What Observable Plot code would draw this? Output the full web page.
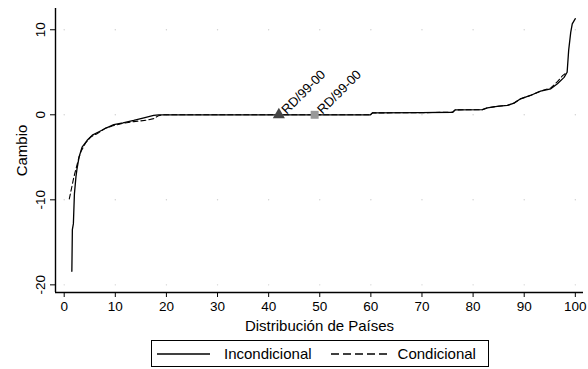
<!DOCTYPE html>
<html>
<head>
<meta charset="utf-8">
<script src="https://cdn.jsdelivr.net/npm/d3@7"></script>
<script src="https://cdn.jsdelivr.net/npm/@observablehq/plot@0.6"></script>
<style>
  html, body { margin: 0; padding: 0; background: white; }
  body { width: 588px; height: 369px; overflow: hidden; font-family: "Liberation Sans", Arial, sans-serif; }
  #legend { position: absolute; left: 151px; top: 340px; width: 336px; height: 25px; border: 1px solid #000;
            display: flex; align-items: center; font-size: 15px; color: #000; box-sizing: content-box; }
  #legend span { white-space: nowrap; }
</style>
</head>
<body>
<div id="chart"></div>
<div id="legend"></div>
<script>
// Incondicional (solid)
const incX = [1.5, 1.6, 1.8, 2.0, 2.3, 2.5, 2.9, 3.5, 4.5, 5.5, 6.8, 8.4, 9.7, 11.5, 13.6, 15.6, 17.5, 18.5, 30, 42, 50, 59.9, 60.3, 70, 76, 76.5, 81.8, 82.8, 84.7, 86.7, 88, 89.3, 91.2, 93.2, 95.2, 96.5, 97.8, 98.4, 98.7, 99.1, 99.4, 100];
const incY = [-18.4, -13.5, -12.8, -9.3, -7.3, -6.4, -5.0, -3.8, -3.0, -2.4, -2.0, -1.5, -1.15, -0.95, -0.67, -0.35, -0.08, 0, 0, 0, 0, 0, 0.22, 0.25, 0.3, 0.58, 0.6, 0.82, 1.0, 1.1, 1.37, 1.88, 2.27, 2.78, 3.06, 3.65, 4.4, 5.0, 7.6, 9.7, 10.7, 11.3];
// Condicional (dashed)
const conX = [1.0, 1.9, 2.9, 3.3, 4.2, 5.2, 6.5, 8.0, 9.5, 11.5, 13.6, 16.0, 17.5, 18.5, 19.5, 30, 42, 50, 59.9, 60.3, 70, 76, 76.5, 81.8, 82.8, 84.7, 86.7, 88, 89.3, 91.2, 93.2, 95.2, 96.5, 97.5, 98.4];
const conY = [-9.9, -7.3, -5.0, -4.3, -3.3, -2.6, -2.2, -1.6, -1.3, -1.0, -0.8, -0.65, -0.45, -0.1, 0, 0, 0, 0, 0, 0.22, 0.25, 0.3, 0.58, 0.6, 0.82, 1.0, 1.1, 1.37, 1.88, 2.27, 2.78, 3.15, 3.9, 4.6, 5.0];
// Labelled points
const markX = [42, 49];
const markY = [0, 0];
const markLabels = ["RD/99-00", "RD/99-00"];
const markSymbols = ["triangle", "square"];
const markColors = ["#444444", "#999999"];
// Axes
const xTicks = [0, 10, 20, 30, 40, 50, 60, 70, 80, 90, 100];
const yTicks = [-20, -10, 0, 10];
const xTitle = "Distribución de Países";
const yTitle = "Cambio";
const seriesNames = ["Incondicional", "Condicional"];

const xDomain = [-1.7, 101.6];
const yDomain = [-20.9, 12.5];

const inc = incX.map((x, i) => ({x, y: incY[i]}));
const con = conX.map((x, i) => ({x, y: conY[i]}));
const marks = markX.map((x, i) => ({x, y: markY[i], label: markLabels[i], symbol: markSymbols[i], color: markColors[i]}));
const gridPts = d3.cross(xTicks, yTicks).map(([x, y]) => ({x, y}));

const chart = Plot.plot({
  width: 588,
  height: 335,
  marginLeft: 55,
  marginRight: 5,
  marginTop: 8,
  marginBottom: 43,
  style: {fontFamily: "'Liberation Sans', Arial, sans-serif", fontSize: "13px", color: "#000", background: "white"},
  x: {domain: xDomain},
  y: {domain: yDomain},
  marks: [
    Plot.dot(gridPts, {x: "x", y: "y", r: 0.7, fill: "#d0d0d0", stroke: null}),
    Plot.axisX({ticks: xTicks, tickSize: 5, tickPadding: 4, tickFormat: d => String(d), fontSize: 13.5,
      label: xTitle, labelAnchor: "center", labelOffset: 38, labelArrow: "none"}),
    Plot.axisY({ticks: yTicks, tickSize: 5, tickPadding: 6, tickRotate: -90, tickFormat: d => String(d), fontSize: 13.5,
      label: yTitle, labelAnchor: "center", labelOffset: 39, labelArrow: "none"}),
    Plot.ruleX([xDomain[0]], {stroke: "#000", strokeWidth: 1.4}),
    Plot.ruleY([yDomain[0]], {stroke: "#000", strokeWidth: 1.4}),
    Plot.line(con, {x: "x", y: "y", stroke: "#000", strokeWidth: 1.1, strokeDasharray: "5,3"}),
    Plot.line(inc, {x: "x", y: "y", stroke: "#000", strokeWidth: 1.3}),
    Plot.dot(marks, {x: "x", y: "y", symbol: "symbol", fill: "color", stroke: null, r: 4.5}),
    Plot.text(marks, {x: "x", y: "y", text: "label", rotate: -45, textAnchor: "start", dx: 5, dy: -3, fontSize: 13, fill: "#000"})
  ]
});
chart.querySelectorAll("text").forEach(t => t.style.fill = "#000");
chart.querySelectorAll('[aria-label="x-axis label"], [aria-label="y-axis label"]').forEach(g => {
  g.setAttribute("font-size", "15");
  g.querySelectorAll("text").forEach(t => t.setAttribute("font-size", "15"));
});
document.getElementById("chart").appendChild(chart);

// Legend
const lg = document.getElementById("legend");
lg.innerHTML =
  `<svg width="54" height="10" style="margin-left:5px"><line x1="0" y1="5" x2="53" y2="5" stroke="#000" stroke-width="1.3"/></svg>` +
  `<span style="margin-left:13px">${seriesNames[0]}</span>` +
  `<svg width="58" height="10" style="margin-left:19px"><line x1="0" y1="5" x2="57" y2="5" stroke="#000" stroke-width="1.3" stroke-dasharray="8,4"/></svg>` +
  `<span style="margin-left:9px">${seriesNames[1]}</span>`;
</script>
</body>
</html>
